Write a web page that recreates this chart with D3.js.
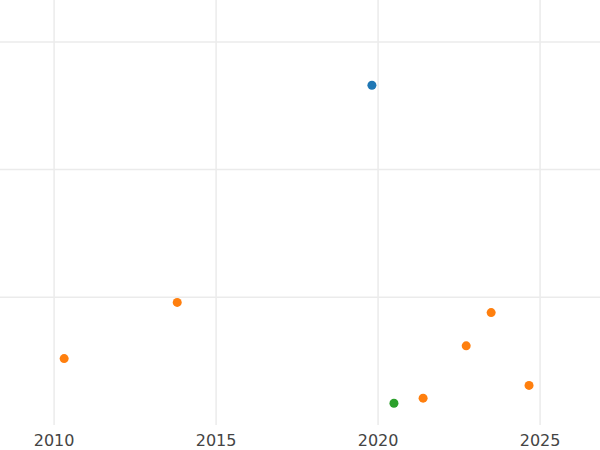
<!DOCTYPE html>
<html>
<head>
<meta charset="utf-8">
<script src="https://cdn.jsdelivr.net/npm/d3@7"></script>
<style>
  body { margin: 0; background: #fff; }
  text { font-family: "DejaVu Sans", sans-serif; }
</style>
</head>
<body>
<svg id="chart" width="600" height="450"></svg>
<script>
// Data
const years = [2019.81, 2013.8, 2010.31, 2023.49, 2022.72, 2021.39, 2024.66, 2020.49];
const values = [2.66, 0.96, 0.52, 0.88, 0.62, 0.21, 0.31, 0.17];
const groups = ["A", "B", "B", "B", "B", "B", "B", "C"];
const xTicks = [2010, 2015, 2020, 2025];
const yTicks = [1, 2, 3];

const colors = { A: "#1f77b4", B: "#ff7f0e", C: "#2ca02c" };

const svg = d3.select("#chart");
const width = 600, plotBottom = 425;

const x = d3.scaleLinear().domain([2008.33, 2026.85]).range([0, width]);
const y = d3.scaleLinear().domain([0, 3.328]).range([plotBottom, 0]);

// Gridlines
svg.append("g").selectAll("line").data(xTicks).join("line")
  .attr("x1", d => x(d)).attr("x2", d => x(d))
  .attr("y1", 0).attr("y2", plotBottom)
  .attr("stroke", "#ebebeb").attr("stroke-width", 1.5);

svg.append("g").selectAll("line").data(yTicks).join("line")
  .attr("x1", 0).attr("x2", width)
  .attr("y1", d => y(d)).attr("y2", d => y(d))
  .attr("stroke", "#ebebeb").attr("stroke-width", 1.5);

// X tick labels
svg.append("g").selectAll("text").data(xTicks).join("text")
  .attr("x", d => x(d)).attr("y", 446)
  .attr("text-anchor", "middle")
  .attr("font-size", 16).attr("fill", "#444")
  .text(d => d);

// Points
svg.append("g").selectAll("circle").data(years).join("circle")
  .attr("cx", d => x(d))
  .attr("cy", (d, i) => y(values[i]))
  .attr("r", 4.5)
  .attr("fill", (d, i) => colors[groups[i]]);
</script>
</body>
</html>
